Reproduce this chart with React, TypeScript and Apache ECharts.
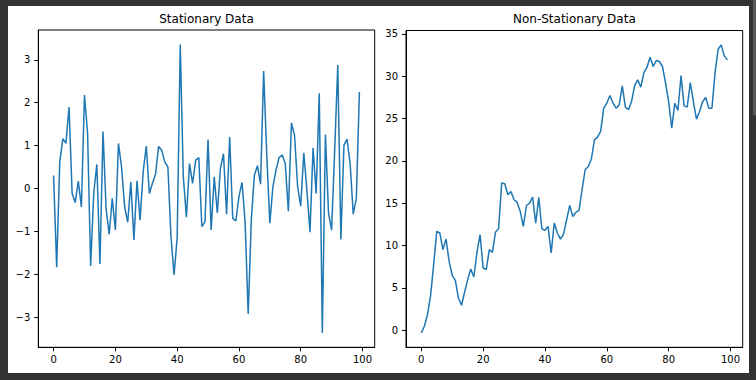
import React, { useEffect, useRef } from "react";
import * as echarts from "echarts";

const stationaryValues: number[] = [
  0.30, -1.84, 0.62, 1.16, 1.05, 1.90, -0.12, -0.33, 0.17, -0.43,
  2.18, 1.30, -1.81, -0.10, 0.56, -1.76, 1.33, -0.47, -1.07, -0.23,
  -0.97, 1.05, 0.50, -0.43, -0.79, 0.15, -1.20, 0.18, -0.74, 0.39,
  0.99, -0.12, 0.12, 0.33, 0.98, 0.89, 0.62, 0.50, -1.12, -2.02,
  -1.16, 3.36, 0.27, -0.67, 0.58, 0.12, 0.66, 0.72, -0.89, -0.78,
  1.14, -0.97, 0.27, -0.57, 0.46, 0.81, -0.60, 1.20, -0.70, -0.76,
  -0.19, 0.14, -0.78, -2.93, -0.74, 0.31, 0.53, 0.10, 2.74, 0.81,
  -0.81, 0.04, 0.43, 0.72, 0.78, 0.58, -0.53, 1.53, 1.24, 0.04,
  -0.41, 0.83, -0.04, -1.02, 0.95, -0.12, 2.22, -3.37, 1.26, -0.57,
  -0.97, 0.90, 2.88, -1.19, 1.01, 1.15, 0.58, -0.60, -0.23, 2.25,
];

const nonStationaryValues: number[] = [
  -0.31, 0.48, 1.85, 4.09, 7.75, 11.68, 11.48, 9.52, 10.77, 8.14,
  6.49, 5.90, 3.82, 2.95, 4.49, 5.98, 7.24, 6.29, 9.20, 11.28,
  7.35, 7.16, 9.52, 9.20, 11.60, 11.99, 17.38, 17.30, 16.00, 16.39,
  15.41, 15.10, 14.03, 12.26, 14.70, 15.02, 15.72, 12.66, 15.68, 11.99,
  11.80, 12.27, 9.12, 12.66, 11.48, 10.77, 11.36, 13.05, 14.74, 13.44,
  13.92, 14.15, 16.59, 18.95, 19.34, 20.20, 22.48, 22.80, 23.47, 26.22,
  26.81, 27.72, 26.81, 26.22, 26.61, 28.85, 26.34, 26.03, 27.00, 28.89,
  29.56, 28.70, 30.43, 31.06, 32.24, 31.14, 31.84, 31.73, 31.14, 29.17,
  27.00, 23.86, 26.81, 25.94, 30.07, 26.49, 26.34, 29.25, 27.00, 24.92,
  25.82, 27.00, 27.48, 26.22, 26.22, 30.35, 33.18, 33.69, 32.39, 31.92,
];

const xTicks: number[] = [0, 20, 40, 60, 80, 100];
const stationaryYTicks: number[] = [-3, -2, -1, 0, 1, 2, 3];
const nonStationaryYTicks: number[] = [0, 5, 10, 15, 20, 25, 30, 35];
const titles: string[] = ["Stationary Data", "Non-Stationary Data"];

const FONT = "DejaVu Sans";

function margins(vals: number[]): [number, number] {
  const mn = Math.min(...vals);
  const mx = Math.max(...vals);
  const pad = (mx - mn) * 0.05;
  return [mn - pad, mx + pad];
}

function fmt(v: number): string {
  return v < 0 ? "\u2212" + Math.abs(v) : String(v);
}

export default function App() {
  const ref = useRef<HTMLDivElement>(null);

  useEffect(() => {
    if (!ref.current) return;
    const chart = echarts.init(ref.current, undefined, { renderer: "svg" });

    const series = [stationaryValues, nonStationaryValues];
    const yTicks = [stationaryYTicks, nonStationaryYTicks];
    const grids = [
      { left: 30.3, top: 24, width: 336.4, height: 317.3 },
      { left: 398, top: 24.5, width: 336.7, height: 316.8 },
    ];

    const xRange = margins([0, series[0].length - 1]);

    const option: any = {
      animation: false,
      backgroundColor: "#ffffff",
      title: grids.map((g, k) => ({
        text: titles[k],
        left: g.left + g.width / 2,
        top: 7,
        textAlign: "center",
        padding: 0,
        textStyle: {
          fontFamily: FONT,
          fontSize: 12,
          fontWeight: "normal",
          color: "#000000",
        },
      })),
      grid: grids.map((g) => ({
        ...g,
        show: true,
        borderColor: "#000000",
        borderWidth: 1,
        backgroundColor: "transparent",
        containLabel: false,
      })),
      xAxis: grids.map((_, k) => ({
        type: "value",
        gridIndex: k,
        min: xRange[0],
        max: xRange[1],
        splitLine: { show: false },
        axisLine: { show: true, onZero: false, lineStyle: { color: "#000000", width: 1 } },
        axisTick: {
          show: true,
          length: 4,
          lineStyle: { color: "#000000", width: 1 },
          customValues: xTicks,
        },
        axisLabel: {
          customValues: xTicks,
          margin: 7,
          fontFamily: FONT,
          fontSize: 10,
          color: "#000000",
          formatter: fmt,
        },
      })),
      yAxis: grids.map((_, k) => {
        const r = margins(series[k]);
        return {
          type: "value",
          gridIndex: k,
          min: r[0],
          max: r[1],
          splitLine: { show: false },
          axisLine: { show: true, onZero: false, lineStyle: { color: "#000000", width: 1 } },
          axisTick: {
            show: true,
            length: 4,
            lineStyle: { color: "#000000", width: 1 },
            customValues: yTicks[k],
          },
          axisLabel: {
            customValues: yTicks[k],
            margin: 8,
            fontFamily: FONT,
            fontSize: 10,
            color: "#000000",
            formatter: fmt,
          },
        };
      }),
      series: series.map((vals, k) => ({
        type: "line",
        xAxisIndex: k,
        yAxisIndex: k,
        data: vals.map((v, i) => [i, v]),
        symbol: "none",
        showSymbol: false,
        lineStyle: { color: "#1f77b4", width: 1.5 },
        itemStyle: { color: "#1f77b4" },
      })),
    };

    chart.setOption(option);
    return () => chart.dispose();
  }, []);

  return (
    <div
      style={{
        position: "fixed",
        left: 0,
        top: 0,
        width: 756,
        height: 380,
        background: "#333333",
        overflow: "hidden",
      }}
    >
      <div
        ref={ref}
        style={{ position: "absolute", left: 8, top: 6, width: 741, height: 367 }}
      />
      <div
        style={{
          position: "absolute",
          left: 753,
          top: 0,
          width: 3,
          height: 115,
          background: "#5a5a5a",
        }}
      />
    </div>
  );
}
